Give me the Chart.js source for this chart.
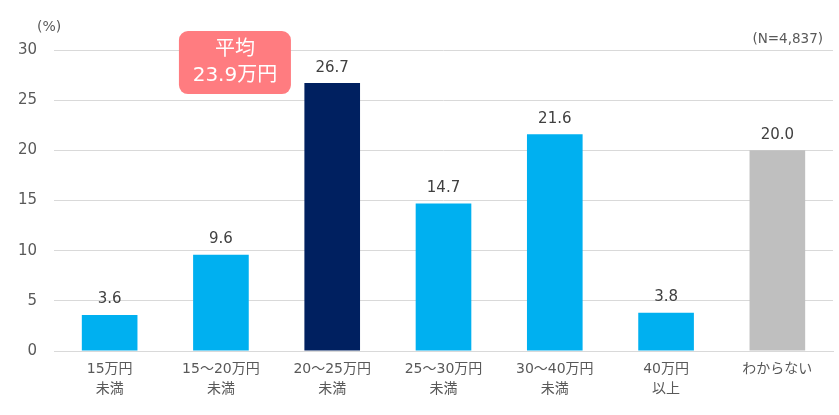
<!DOCTYPE html>
<html><head><meta charset="utf-8">
<script src="https://cdn.jsdelivr.net/npm/chart.js@4"></script>
<style>html,body{margin:0;padding:0;background:#fff;}#wrap{width:839px;height:415px;}</style>
</head><body><div id="wrap"><canvas id="c" width="839" height="415"></canvas></div>
<script>
const categories = [["15万円","未満"],["15～20万円","未満"],["20～25万円","未満"],["25～30万円","未満"],["30～40万円","未満"],["40万円","以上"],["わからない"]];
const values = [3.6, 9.6, 26.7, 14.7, 21.6, 3.8, 20.0];
const barColors = ["#00B0F0","#00B0F0","#002060","#00B0F0","#00B0F0","#00B0F0","#BFBFBF"];
const yTicks = [0,5,10,15,20,25,30];
const unitLabel = "(%)";
const sampleLabel = "(N=4,837)";
const averageLines = ["平均","23.9万円"];
const FONT = "'DejaVu Sans', 'Noto Sans CJK JP', sans-serif";

const labelsPlugin = {
  id:'labels',
  afterDatasetsDraw(chart){
    const ctx = chart.ctx;
    const meta = chart.getDatasetMeta(0);
    ctx.save();
    ctx.font = "15px " + FONT;
    ctx.fillStyle = "#404040";
    ctx.textAlign = "center";
    ctx.textBaseline = "bottom";
    meta.data.forEach((bar,i)=>{
      ctx.fillText(values[i].toFixed(1), bar.x, bar.y - 8);
    });
    ctx.fillStyle = "#595959";
    ctx.textBaseline = "middle";
    ctx.font = "14px " + FONT;
    ctx.textAlign = "left";
    ctx.fillText(unitLabel, 37, 27);
    ctx.font = "13.5px " + FONT;
    ctx.textAlign = "right";
    ctx.fillText(sampleLabel, 823, 39);
    const xs = chart.scales.x, ys = chart.scales.y;
    const cx = xs.getPixelForValue(1) + 14;
    const cy = ys.getPixelForValue(28.75);
    const w = 112, h = 63, r = 9;
    const x0 = cx - w/2, y0 = cy - h/2;
    ctx.fillStyle = "#FF7C80";
    ctx.beginPath();
    ctx.roundRect(x0, y0, w, h, r);
    ctx.fill();
    ctx.fillStyle = "#FFFFFF";
    ctx.font = "20px " + FONT;
    ctx.textAlign = "center";
    ctx.textBaseline = "middle";
    ctx.fillText(averageLines[0], cx, cy - 13);
    ctx.fillText(averageLines[1], cx, cy + 13);
    ctx.restore();
  }
};

new Chart(document.getElementById('c'), {
  type:'bar',
  data:{labels:categories, datasets:[{data:values, backgroundColor:barColors, barPercentage:0.5, categoryPercentage:1.0}]},
  options:{
    responsive:false, animation:false, devicePixelRatio:1,
    layout:{padding:{top:50,right:6,left:0,bottom:0}},
    plugins:{legend:{display:false}, tooltip:{enabled:false}},
    scales:{
      x:{
        grid:{display:false, drawTicks:false},
        border:{display:true, color:"#d9d9d9", width:1},
        ticks:{color:"#595959", font:{family:FONT, size:14, lineHeight:1.4}, padding:9, maxRotation:0, autoSkip:false},
        afterFit(s){ s.height = 64; }
      },
      y:{
        min:0, max:30,
        afterBuildTicks(s){ s.ticks = yTicks.map(v=>({value:v})); },
        grid:{color:"#d9d9d9", drawTicks:false},
        border:{display:false},
        ticks:{color:"#595959", font:{family:FONT, size:15}, padding:17},
        afterFit(s){ s.width = 54; }
      }
    }
  },
  plugins:[labelsPlugin]
});
</script></body></html>
